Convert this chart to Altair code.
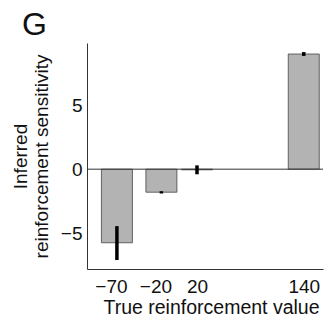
import altair as alt
import pandas as pd

reinf_values = [-70, -20, 20, 140]
sensitivity = [-5.75, -1.8, -0.05, 9.0]
err_low = [-7.1, -1.9, -0.4, 8.85]
err_high = [-4.45, -1.72, 0.3, 9.15]
x_ticks = [-70, -20, 20, 140]
y_ticks = [-5, 0, 5]
panel_label = ["G"]

df = pd.DataFrame({"x": reinf_values, "y": sensitivity, "lo": err_low, "hi": err_high})

FONT = "Liberation Sans"
xscale = alt.Scale(domain=[-98, 156], nice=False, zero=False)
yscale = alt.Scale(domain=[-7.8, 9.86], nice=False, zero=False)

base = alt.Chart(df)

bars = base.mark_bar(size=31, color="#b3b3b3", stroke="#444444", strokeWidth=0.8).encode(
    x=alt.X("x:Q", scale=xscale,
            axis=alt.Axis(values=x_ticks, title="True reinforcement value", grid=False,
                          ticks=False, domainColor="#333333", labelFontSize=19,
                          titleFontSize=19.5, labelFont=FONT, titleFont=FONT,
                          labelColor="#111111", titleColor="#111111", labelPadding=8,
                          titlePadding=2, titleFontWeight="normal", labelFlush=False,
                          labelOffset={"condition": {"test": "datum.value < 0", "value": -6},
                                       "value": 0},
                          titleX=124)),
    y=alt.Y("y:Q", scale=yscale,
            axis=alt.Axis(values=y_ticks, title=["Inferred", "reinforcement sensitivity"],
                          grid=False, ticks=False, domainColor="#333333",
                          labelFontSize=19, titleFontSize=19, labelFont=FONT, titleFont=FONT,
                          labelColor="#111111", titleColor="#111111", labelPadding=5,
                          titlePadding=9, titleFontWeight="normal", titleLineHeight=21)),
    y2=alt.datum(0),
)

zero = alt.Chart(pd.DataFrame({"z": [0]})).mark_rule(color="#333333", strokeWidth=1).encode(
    y=alt.Y("z:Q", scale=yscale)
)

errs = base.mark_rule(color="black", strokeWidth=3.5).encode(
    x=alt.X("x:Q", scale=xscale),
    y=alt.Y("lo:Q", scale=yscale),
    y2="hi:Q",
)

label = alt.Chart(pd.DataFrame({"t": panel_label})).mark_text(
    align="left", baseline="alphabetic", fontSize=32, font=FONT, color="#111111"
).encode(text="t:N", x=alt.value(-65), y=alt.value(-8))

chart = alt.layer(bars, zero, errs, label).properties(
    width=236, height=226,
    background="white",
    autosize=alt.AutoSizeParams(type="none"),
    padding={"left": 87, "top": 43, "right": 4, "bottom": 55},
).configure_view(stroke="transparent", strokeWidth=0)

chart.save("out.html", embed_options={"renderer": "svg", "actions": False})
